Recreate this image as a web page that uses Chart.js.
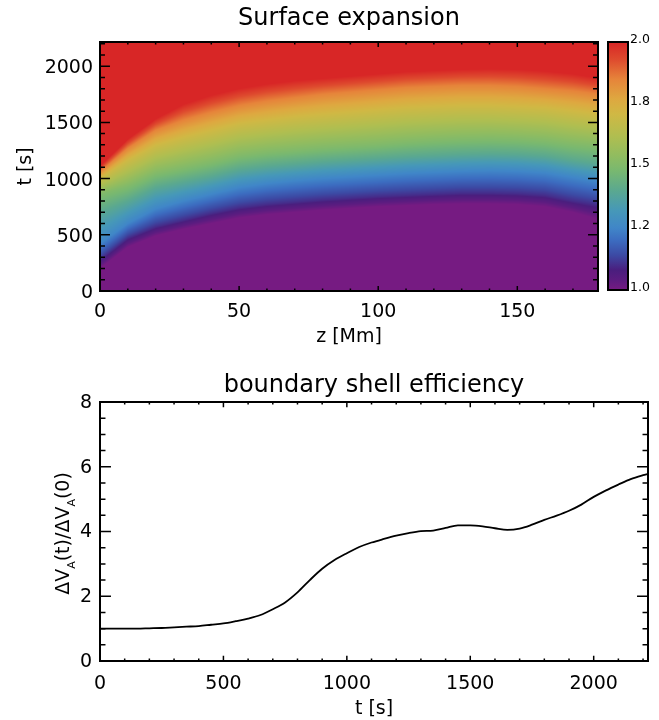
<!DOCTYPE html>
<html>
<head>
<meta charset="utf-8">
<script src="https://cdn.jsdelivr.net/npm/chart.js@4.4.1/dist/chart.umd.min.js"></script>
<style>
  html, body { margin: 0; padding: 0; background: #fff; }
  #wrap { position: relative; width: 659px; height: 720px; }
  canvas { position: absolute; }
</style>
</head>
<body>
<div id="wrap">
  <canvas id="mapChart" width="659" height="360" style="left:0;top:0"></canvas>
  <canvas id="barChart" width="69" height="360" style="left:590px;top:0"></canvas>
  <canvas id="effChart" width="659" height="360" style="left:0;top:360px"></canvas>
</div>
<script>
// Surface expansion map: for each z column, the time t [s] at which the
// expansion factor reaches each contour level
const zCols   = [0, 10, 20, 30, 40, 50, 60, 70, 80, 90, 100, 110, 120, 130, 140, 150, 160, 170, 180];
const levels  = [1.0, 1.1, 1.25, 1.4, 1.5, 1.7, 1.85, 2.0];
const tLev100 = [200, 390, 490, 550, 600, 650, 680, 700, 720, 735, 750, 760, 770, 775, 775, 770, 750, 700, 630];
const tLev110 = [280, 470, 570, 630, 690, 740, 770, 790, 810, 825, 840, 850, 860, 870, 870, 865, 850, 800, 760];
const tLev125 = [420, 600, 730, 800, 860, 920, 955, 980, 1000, 1015, 1030, 1045, 1055, 1065, 1070, 1065, 1050, 1010, 970];
const tLev140 = [700, 800, 920, 970, 1020, 1080, 1110, 1130, 1150, 1165, 1180, 1195, 1205, 1215, 1220, 1215, 1200, 1160, 1130];
const tLev150 = [860, 930, 1040, 1090, 1140, 1200, 1230, 1250, 1270, 1285, 1300, 1320, 1335, 1345, 1350, 1345, 1330, 1300, 1280];
const tLev170 = [1000, 1160, 1290, 1360, 1420, 1480, 1510, 1540, 1560, 1580, 1600, 1620, 1630, 1640, 1640, 1630, 1620, 1590, 1560];
const tLev185 = [1060, 1270, 1430, 1520, 1590, 1650, 1690, 1720, 1750, 1770, 1790, 1810, 1820, 1830, 1830, 1820, 1800, 1780, 1750];
const tLev200 = [1110, 1350, 1530, 1660, 1740, 1800, 1840, 1870, 1890, 1910, 1930, 1950, 1960, 1970, 1975, 1970, 1955, 1930, 1890];
const levelTimes = [tLev100, tLev110, tLev125, tLev140, tLev150, tLev170, tLev185, tLev200];

// rainbow colour table
const cmapStops  = [1.0, 1.04, 1.08, 1.14, 1.2, 1.25, 1.32, 1.4, 1.48, 1.54, 1.62, 1.71, 1.77, 1.85, 1.93, 2.0];
const cmapColors = ['#761b82', '#5c1c80', '#4a1e7e', '#3c4aa4', '#3c6cc0', '#4086c8', '#4698b8', '#5aa890',
                    '#78b870', '#90bc60', '#b0be50', '#d0b844', '#dea840', '#e6843a', '#de4a2e', '#d82626'];
const cbarTicks  = [1.0, 1.25, 1.5, 1.75, 2.0];
const cbarLabels = ['1.0', '1.2', '1.5', '1.8', '2.0'];
const mapXTicks  = [0, 50, 100, 150];
const mapYTicks  = [0, 500, 1000, 1500, 2000];

// boundary shell efficiency
const effTime  = [0, 50, 100, 150, 200, 250, 300, 350, 400, 450, 500, 550, 600, 650, 700, 750, 800, 850, 900, 950,
                  1000, 1050, 1100, 1150, 1200, 1250, 1300, 1350, 1400, 1450, 1500, 1550, 1600, 1650, 1700, 1750,
                  1800, 1850, 1900, 1950, 2000, 2050, 2100, 2150, 2200, 2220];
const effValue = [1.00, 1.00, 1.00, 1.00, 1.01, 1.02, 1.04, 1.06, 1.08, 1.12, 1.16, 1.23, 1.31, 1.42, 1.60, 1.81,
                  2.12, 2.50, 2.85, 3.12, 3.33, 3.52, 3.66, 3.77, 3.87, 3.95, 4.01, 4.03, 4.11, 4.19, 4.19, 4.16,
                  4.10, 4.05, 4.09, 4.21, 4.36, 4.49, 4.64, 4.83, 5.07, 5.27, 5.45, 5.62, 5.74, 5.78];
const effXTicks = [0, 500, 1000, 1500, 2000];
const effYTicks = [0, 2, 4, 6, 8];

Chart.defaults.font.family = "'DejaVu Sans', sans-serif";
Chart.defaults.color = '#000';

const rgbStops = cmapColors.map(h => [1, 3, 5].map(i => parseInt(h.substr(i, 2), 16)));
function colorOf(v) {
	if (v <= cmapStops[0]) return rgbStops[0];
	for (let i = 1; i < cmapStops.length; i++) {
		if (v <= cmapStops[i]) {
			const f = (v - cmapStops[i-1]) / (cmapStops[i] - cmapStops[i-1]);
			return rgbStops[i].map((c, k) => rgbStops[i-1][k] + (c - rgbStops[i-1][k]) * f);
		}
	}
	return rgbStops[rgbStops.length - 1];
}
// level value at time t, given the contour times of one column
function valueAt(times, t) {
	const n = levels.length;
	if (t <= times[0]) return levels[0];
	if (t >= times[n-1]) return levels[n-1];
	for (let k = 1; k < n; k++) {
		if (t <= times[k]) return levels[k-1] + (levels[k] - levels[k-1]) * (t - times[k-1]) / (times[k] - times[k-1]);
	}
	return levels[n-1];
}

// paints the map into the chart area, pixel by pixel through the chart scales
const heatmapPlugin = {
	id: 'heatmap',
	beforeDatasetsDraw(chart) {
		const { ctx, chartArea: a, scales: { x, y } } = chart;
		const x0 = Math.floor(a.left), y0 = Math.floor(a.top);
		const w = Math.ceil(a.right) - x0, h = Math.ceil(a.bottom) - y0;
		const off = document.createElement('canvas');
		off.width = w; off.height = h;
		const octx = off.getContext('2d');
		const img = octx.createImageData(w, h);
		const dz = zCols[1] - zCols[0];
		for (let c = 0; c < w; c++) {
			const z = x.getValueForPixel(x0 + c + 0.5);
			const j = Math.min(zCols.length - 2, Math.max(0, Math.floor((z - zCols[0]) / dz)));
			const f = (z - zCols[j]) / dz;
			const times = levelTimes.map(arr => arr[j] + (arr[j+1] - arr[j]) * f);
			for (let r = 0; r < h; r++) {
				const col = colorOf(valueAt(times, y.getValueForPixel(y0 + r + 0.5)));
				const k = (r * w + c) * 4;
				img.data[k] = col[0]; img.data[k+1] = col[1]; img.data[k+2] = col[2]; img.data[k+3] = 255;
			}
		}
		octx.putImageData(img, 0, 0);
		ctx.save();
		ctx.beginPath(); ctx.rect(a.left, a.top, a.right - a.left, a.bottom - a.top); ctx.clip();
		ctx.drawImage(off, x0, y0);
		ctx.restore();
	}
};

// box round the plot with inward ticks on all four sides
const framePlugin = {
	id: 'frame',
	afterDraw(chart, args, o) {
		const { ctx, chartArea: a, scales: { x, y } } = chart;
		ctx.save();
		ctx.strokeStyle = '#000';
		if (o.xMinor) {
			const xLen = 0.02 * (a.bottom - a.top), yLen = 0.02 * (a.right - a.left);
			ctx.lineWidth = 1.5;
			ctx.beginPath();
			for (let k = 0; k * o.xMinor <= x.max + 1e-9; k++) {
				const px = x.getPixelForValue(k * o.xMinor);
				const L = k % Math.round(o.xMajor / o.xMinor) === 0 ? xLen : xLen / 2;
				ctx.moveTo(px, a.bottom); ctx.lineTo(px, a.bottom - L);
				ctx.moveTo(px, a.top); ctx.lineTo(px, a.top + L);
			}
			for (let k = 0; k * o.yMinor <= y.max + 1e-9; k++) {
				const py = y.getPixelForValue(k * o.yMinor);
				const L = k % Math.round(o.yMajor / o.yMinor) === 0 ? yLen : yLen / 2;
				ctx.moveTo(a.left, py); ctx.lineTo(a.left + L, py);
				ctx.moveTo(a.right, py); ctx.lineTo(a.right - L, py);
			}
			ctx.stroke();
		}
		ctx.lineWidth = 2;
		ctx.strokeRect(a.left, a.top, a.right - a.left, a.bottom - a.top);
		if (o.title) {
			ctx.fillStyle = '#000';
			ctx.font = "24px 'DejaVu Sans'";
			ctx.textAlign = 'center';
			ctx.textBaseline = 'middle';
			ctx.fillText(o.title, (a.left + a.right) / 2, o.titleY);
		}
		ctx.restore();
	}
};

// y title of the lower plot, with subscript A
const effTitlePlugin = {
	id: 'effTitle',
	afterDraw(chart) {
		const { ctx, chartArea: a } = chart;
		const parts = [['ΔV', 0], ['A', 1], ['(t)/ΔV', 0], ['A', 1], ['(0)', 0]];
		const big = "19px 'DejaVu Sans'", small = "11px 'DejaVu Sans'";
		ctx.save();
		let total = 0;
		parts.forEach(p => { ctx.font = p[1] ? small : big; total += ctx.measureText(p[0]).width; });
		ctx.translate(62, (a.top + a.bottom) / 2 + 2);
		ctx.rotate(-Math.PI / 2);
		ctx.fillStyle = '#000';
		ctx.textBaseline = 'alphabetic';
		let pos = -total / 2;
		parts.forEach(p => {
			ctx.font = p[1] ? small : big;
			ctx.fillText(p[0], pos, p[1] ? 13 : 7);
			pos += ctx.measureText(p[0]).width;
		});
		ctx.restore();
	}
};

const tickFont = { size: 19 };
const noGrid = { display: false, drawTicks: false };

new Chart(document.getElementById('mapChart'), {
	type: 'scatter',
	data: { datasets: [{ data: [], pointRadius: 0 }] },
	options: {
		responsive: false, animation: false, devicePixelRatio: 1,
		layout: { padding: { left: 0, right: 61, top: 42, bottom: 0 } },
		plugins: {
			legend: { display: false }, tooltip: { enabled: false },
			frame: { xMajor: 50, xMinor: 10, yMajor: 500, yMinor: 100, title: 'Surface expansion', titleY: 18.5 }
		},
		scales: {
			x: {
				type: 'linear', min: 0, max: 179,
				grid: noGrid, border: { display: false },
				afterBuildTicks: s => { s.ticks = mapXTicks.map(v => ({ value: v })); },
				afterFit: s => { s.height = 69; },
				ticks: { padding: 9.6, font: tickFont, color: '#000', callback: v => String(v) },
				title: { display: true, text: 'z [Mm]', color: '#000', font: tickFont, padding: { top: 0, bottom: 11.6 } }
			},
			y: {
				type: 'linear', min: 0, max: 2215,
				grid: noGrid, border: { display: false },
				afterBuildTicks: s => { s.ticks = mapYTicks.map(v => ({ value: v })); },
				afterFit: s => { s.width = 100; },
				ticks: { padding: 7, labelOffset: 2, font: tickFont, color: '#000', callback: v => String(v) },
				title: { display: true, text: 't [s]', color: '#000', font: tickFont, padding: { top: 14.6, bottom: 0 } }
			}
		}
	},
	plugins: [heatmapPlugin, framePlugin]
});

new Chart(document.getElementById('barChart'), {
	type: 'bar',
	data: {
		labels: [''],
		datasets: [{
			data: [[1.0, 2.0]],
			borderWidth: 0, barPercentage: 1, categoryPercentage: 1,
			backgroundColor: c => {
				const ch = c.chart;
				if (!ch.chartArea) return cmapColors[0];
				const ys = ch.scales.y;
				const g = ch.ctx.createLinearGradient(0, ys.getPixelForValue(1), 0, ys.getPixelForValue(2));
				cmapStops.forEach((s, i) => g.addColorStop(s - 1, cmapColors[i]));
				return g;
			}
		}]
	},
	options: {
		responsive: false, animation: false, devicePixelRatio: 1,
		layout: { padding: { left: 18, right: 0, top: 42, bottom: 70 } },
		plugins: { legend: { display: false }, tooltip: { enabled: false }, frame: {} },
		scales: {
			x: { display: false },
			y: {
				position: 'right', min: 1, max: 2, z: 1,
				afterBuildTicks: s => { s.ticks = cbarTicks.map(v => ({ value: v })); },
				afterFit: s => { s.width = 31; },
				grid: { drawTicks: false, lineWidth: 1.5, color: c => (c.tick && c.tick.value > 1 && c.tick.value < 2) ? '#000' : 'rgba(0,0,0,0)' },
				border: { display: false },
				ticks: { padding: 2, labelOffset: -2, font: { size: 12.5 }, color: '#000', callback: (v, i) => cbarLabels[i] }
			}
		}
	},
	plugins: [framePlugin]
});

new Chart(document.getElementById('effChart'), {
	type: 'line',
	data: {
		datasets: [{
			data: effTime.map((t, i) => ({ x: t, y: effValue[i] })),
			borderColor: '#000', borderWidth: 1.8, pointRadius: 0, fill: false,
			cubicInterpolationMode: 'monotone'
		}]
	},
	options: {
		responsive: false, animation: false, devicePixelRatio: 1,
		layout: { padding: { left: 0, right: 11, top: 42, bottom: 0 } },
		plugins: {
			legend: { display: false }, tooltip: { enabled: false },
			frame: { xMajor: 500, xMinor: 100, yMajor: 2, yMinor: 0.5, title: 'boundary shell efficiency', titleY: 26 }
		},
		scales: {
			x: {
				type: 'linear', min: 0, max: 2220,
				grid: noGrid, border: { display: false },
				afterBuildTicks: s => { s.ticks = effXTicks.map(v => ({ value: v })); },
				afterFit: s => { s.height = 59; },
				ticks: { padding: 11.5, font: tickFont, color: '#000', callback: v => String(v) },
				title: { display: true, text: 't [s]', color: '#000', font: tickFont, padding: { top: 0, bottom: 0 } }
			},
			y: {
				type: 'linear', min: 0, max: 8,
				grid: noGrid, border: { display: false },
				afterBuildTicks: s => { s.ticks = effYTicks.map(v => ({ value: v })); },
				afterFit: s => { s.width = 100; },
				ticks: { padding: 8, labelOffset: 1, font: tickFont, color: '#000', callback: v => String(v) }
			}
		}
	},
	plugins: [framePlugin, effTitlePlugin]
});
</script>
</body>
</html>
